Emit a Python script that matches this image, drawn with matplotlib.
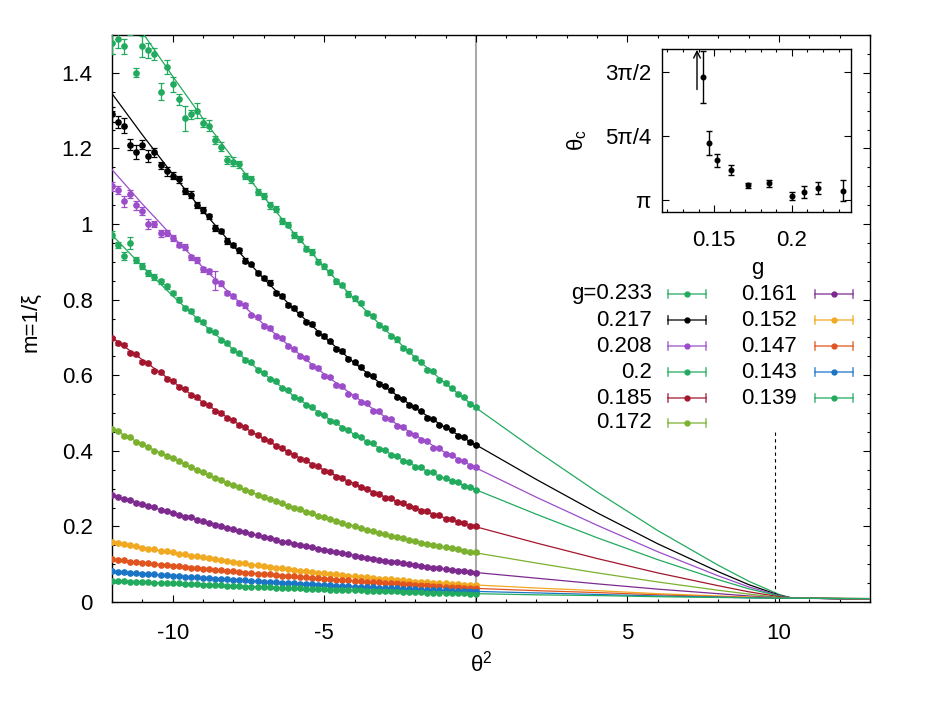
import matplotlib
matplotlib.use("Agg")
import matplotlib.pyplot as plt
import numpy as np
from matplotlib.lines import Line2D
from matplotlib.ticker import MultipleLocator, FuncFormatter

plt.rcParams['font.family'] = ['Liberation Sans', 'DejaVu Sans']
plt.rcParams['mathtext.fontset'] = 'custom'
plt.rcParams['mathtext.rm'] = 'Liberation Sans'
plt.rcParams['mathtext.it'] = 'Liberation Sans:italic'
plt.rcParams['axes.unicode_minus'] = False

# ---- main panel data: m = 1/xi vs theta^2 ----
theta2 = np.round(np.arange(-12.0, 0.01, 0.2), 1)   # measured theta^2 grid

g_labels = ['g=0.233', '0.217', '0.208', '0.2', '0.185', '0.172',
            '0.161', '0.152', '0.147', '0.143', '0.139']
colors = ['#22aa5e', '#000000', '#9b4dca', '#22aa5e', '#a3162d', '#7bb12f',
          '#7d2a8f', '#f0a920', '#e0551f', '#1b75c6', '#22aa5e']

m_233 = [1.48, 1.49, 1.47, 1.53, 1.40, 1.47, 1.46, 1.45, 1.35, 1.415, 1.37,
         1.33, 1.28, 1.29, 1.30, 1.268, 1.26, 1.222, 1.205, 1.17, 1.165,
         1.158, 1.128, 1.118, 1.085, 1.075, 1.05, 1.04, 1.008, 0.998, 0.972,
         0.96, 0.935, 0.925, 0.9, 0.888, 0.872, 0.848, 0.838, 0.815, 0.803,
         0.79, 0.764, 0.757, 0.733, 0.724, 0.703, 0.695, 0.672, 0.665, 0.645,
         0.636, 0.615, 0.61, 0.588, 0.58, 0.566, 0.549, 0.543, 0.524, 0.515]
m_217 = [1.29, 1.27, 1.26, 1.21, 1.19, 1.21, 1.18, 1.19, 1.155, 1.14, 1.128,
         1.118, 1.088, 1.078, 1.05, 1.036, 1.02, 0.99, 0.982, 0.955, 0.945,
         0.93, 0.903, 0.893, 0.87, 0.858, 0.845, 0.818, 0.81, 0.786, 0.778,
         0.763, 0.742, 0.735, 0.712, 0.704, 0.69, 0.67, 0.663, 0.643, 0.634,
         0.622, 0.604, 0.598, 0.578, 0.572, 0.56, 0.543, 0.538, 0.52, 0.515,
         0.505, 0.488, 0.485, 0.468, 0.463, 0.455, 0.44, 0.437, 0.422, 0.416]
m_208 = [1.10, 1.09, 1.06, 1.08, 1.05, 1.035, 1.00, 1.00, 0.975, 0.975, 0.962,
         0.945, 0.938, 0.912, 0.905, 0.88, 0.875, 0.85, 0.843, 0.818, 0.81,
         0.79, 0.785, 0.758, 0.754, 0.73, 0.725, 0.703, 0.698, 0.676, 0.67,
         0.65, 0.646, 0.624, 0.62, 0.598, 0.595, 0.574, 0.571, 0.551, 0.546,
         0.528, 0.526, 0.506, 0.504, 0.486, 0.483, 0.466, 0.464, 0.446, 0.443,
         0.428, 0.426, 0.408, 0.407, 0.391, 0.389, 0.375, 0.373, 0.36, 0.356]
m_200 = [0.972, 0.945, 0.915, 0.95, 0.905, 0.89, 0.87, 0.86, 0.848, 0.835, 0.818,
         0.8, 0.778, 0.77, 0.749, 0.74, 0.72, 0.713, 0.692, 0.686, 0.666,
         0.658, 0.64, 0.634, 0.615, 0.607, 0.59, 0.584, 0.566, 0.56, 0.543,
         0.537, 0.521, 0.517, 0.5, 0.495, 0.48, 0.476, 0.46, 0.456, 0.441,
         0.437, 0.423, 0.42, 0.405, 0.402, 0.389, 0.386, 0.373, 0.371, 0.358,
         0.356, 0.344, 0.343, 0.331, 0.329, 0.319, 0.317, 0.307, 0.305, 0.297]
m_185 = [0.698, 0.684, 0.68, 0.66, 0.655, 0.636, 0.632, 0.612, 0.608, 0.59, 0.585,
         0.57, 0.564, 0.547, 0.542, 0.526, 0.52, 0.505, 0.5, 0.486, 0.481,
         0.468, 0.462, 0.449, 0.443, 0.43, 0.425, 0.413, 0.408, 0.396, 0.39,
         0.379, 0.375, 0.363, 0.359, 0.347, 0.344, 0.332, 0.329, 0.317, 0.313,
         0.303, 0.3, 0.289, 0.287, 0.276, 0.274, 0.264, 0.262, 0.253, 0.25,
         0.242, 0.24, 0.231, 0.229, 0.22, 0.219, 0.211, 0.21, 0.202, 0.2]
m_172 = [0.458, 0.452, 0.44, 0.436, 0.424, 0.418, 0.41, 0.4, 0.395, 0.385, 0.38,
         0.372, 0.364, 0.358, 0.349, 0.343, 0.337, 0.328, 0.324, 0.314, 0.31,
         0.304, 0.296, 0.292, 0.283, 0.279, 0.273, 0.266, 0.262, 0.254, 0.25,
         0.245, 0.239, 0.235, 0.228, 0.224, 0.219, 0.213, 0.21, 0.204, 0.201,
         0.196, 0.191, 0.188, 0.182, 0.179, 0.175, 0.171, 0.168, 0.163, 0.161,
         0.157, 0.154, 0.151, 0.147, 0.145, 0.142, 0.139, 0.136, 0.133, 0.131]
m_161 = [0.284, 0.279, 0.272, 0.27, 0.263, 0.258, 0.254, 0.251, 0.244, 0.24, 0.235,
         0.231, 0.226, 0.224, 0.218, 0.213, 0.209, 0.205, 0.2, 0.196, 0.192,
         0.188, 0.186, 0.18, 0.176, 0.172, 0.169, 0.165, 0.159, 0.158, 0.154,
         0.151, 0.148, 0.146, 0.141, 0.138, 0.135, 0.132, 0.129, 0.126, 0.123,
         0.12, 0.117, 0.115, 0.11, 0.109, 0.107, 0.105, 0.102, 0.1, 0.098,
         0.096, 0.093, 0.091, 0.089, 0.087, 0.085, 0.083, 0.082, 0.08, 0.078]
m_152 = [0.159, 0.156, 0.153, 0.15, 0.147, 0.144, 0.141, 0.139, 0.136, 0.134, 0.131,
         0.128, 0.126, 0.123, 0.121, 0.118, 0.116, 0.113, 0.111, 0.108, 0.106,
         0.104, 0.102, 0.099, 0.097, 0.095, 0.093, 0.091, 0.089, 0.087, 0.085,
         0.083, 0.081, 0.08, 0.078, 0.076, 0.074, 0.073, 0.071, 0.07, 0.068,
         0.067, 0.065, 0.064, 0.062, 0.061, 0.06, 0.058, 0.057, 0.055, 0.054,
         0.053, 0.052, 0.051, 0.05, 0.049, 0.048, 0.047, 0.046, 0.046, 0.045]
m_147 = [0.113, 0.111, 0.11, 0.107, 0.106, 0.104, 0.102, 0.101, 0.099, 0.098, 0.096,
         0.094, 0.093, 0.091, 0.09, 0.088, 0.087, 0.085, 0.084, 0.082, 0.081,
         0.08, 0.078, 0.077, 0.075, 0.074, 0.073, 0.071, 0.07, 0.069, 0.068,
         0.067, 0.065, 0.064, 0.063, 0.062, 0.061, 0.059, 0.058, 0.057, 0.056,
         0.055, 0.054, 0.053, 0.052, 0.051, 0.05, 0.049, 0.048, 0.047, 0.046,
         0.045, 0.044, 0.043, 0.042, 0.041, 0.04, 0.039, 0.038, 0.037, 0.036]
m_143 = [0.081, 0.08, 0.079, 0.077, 0.076, 0.075, 0.074, 0.073, 0.072, 0.071, 0.07,
         0.069, 0.067, 0.066, 0.065, 0.064, 0.063, 0.062, 0.061, 0.06, 0.059,
         0.058, 0.057, 0.056, 0.055, 0.054, 0.053, 0.052, 0.051, 0.05, 0.049,
         0.048, 0.047, 0.047, 0.046, 0.045, 0.044, 0.043, 0.043, 0.042, 0.041,
         0.04, 0.039, 0.039, 0.038, 0.037, 0.036, 0.036, 0.035, 0.034, 0.034,
         0.033, 0.033, 0.032, 0.031, 0.031, 0.03, 0.03, 0.029, 0.029, 0.028]
m_139 = [0.056, 0.056, 0.055, 0.054, 0.054, 0.053, 0.052, 0.051, 0.051, 0.05, 0.049,
         0.049, 0.048, 0.047, 0.047, 0.046, 0.045, 0.045, 0.044, 0.043, 0.043,
         0.042, 0.041, 0.041, 0.04, 0.04, 0.039, 0.038, 0.037, 0.037, 0.036,
         0.036, 0.035, 0.035, 0.034, 0.034, 0.033, 0.033, 0.032, 0.032, 0.031,
         0.031, 0.03, 0.03, 0.029, 0.029, 0.028, 0.028, 0.027, 0.027, 0.026,
         0.026, 0.025, 0.025, 0.025, 0.024, 0.024, 0.023, 0.023, 0.022, 0.022]

e_233 = [0.03, 0.025, 0.02, 0.03, 0.012, 0.028, 0.02, 0.015, 0.022, 0.018, 0.02,
         0.015, 0.033, 0.012, 0.02, 0.012, 0.015, 0.01, 0.012, 0.01, 0.012,
         0.009, 0.008, 0.01, 0.007, 0.008, 0.009, 0.007, 0.008, 0.006, 0.008,
         0.007, 0.006, 0.008, 0.007, 0.006, 0.007, 0.006, 0.005, 0.007, 0.006,
         0.005, 0.006, 0.005, 0.006, 0.005, 0.004, 0.006, 0.005, 0.004, 0.005,
         0.004, 0.005, 0.004, 0.004, 0.005, 0.004, 0.004, 0.003, 0.004, 0.004]
e_217 = [0.02, 0.015, 0.02, 0.015, 0.018, 0.012, 0.015, 0.012, 0.01, 0.012, 0.01,
         0.009, 0.008, 0.009, 0.007, 0.008, 0.007, 0.008, 0.006, 0.007, 0.006,
         0.007, 0.006, 0.005, 0.006, 0.005, 0.006, 0.005, 0.005, 0.006, 0.005,
         0.005, 0.004, 0.005, 0.004, 0.005, 0.004, 0.004, 0.005, 0.004, 0.004,
         0.004, 0.003, 0.004, 0.004, 0.003, 0.004, 0.003, 0.003, 0.004, 0.003,
         0.003, 0.003, 0.003, 0.003, 0.003, 0.003, 0.003, 0.003, 0.003, 0.003]
e_208 = [0.012, 0.01, 0.015, 0.01, 0.012, 0.01, 0.012, 0.008, 0.01, 0.008, 0.008,
         0.007, 0.008, 0.006, 0.007, 0.006, 0.007, 0.025, 0.006, 0.005, 0.006,
         0.005, 0.006, 0.005, 0.005, 0.006, 0.005, 0.004, 0.005, 0.004, 0.005,
         0.004, 0.004, 0.005, 0.004, 0.004, 0.003, 0.004, 0.004, 0.003, 0.004,
         0.003, 0.003, 0.004, 0.003, 0.003, 0.003, 0.003, 0.003, 0.003, 0.003,
         0.003, 0.003, 0.003, 0.003, 0.003, 0.003, 0.003, 0.003, 0.003, 0.003]
e_200 = [0.01, 0.008, 0.01, 0.015, 0.008, 0.008, 0.007, 0.008, 0.006, 0.007, 0.006,
         0.006, 0.005, 0.006, 0.005, 0.005, 0.006, 0.005, 0.004, 0.005, 0.004,
         0.004, 0.005, 0.004, 0.004, 0.004, 0.003, 0.004, 0.003, 0.003, 0.004,
         0.003, 0.003, 0.003, 0.003, 0.003, 0.003, 0.003, 0.003, 0.003, 0.003,
         0.003, 0.003, 0.003, 0.003, 0.003, 0.003, 0.003, 0.003, 0.003, 0.003,
         0.003, 0.003, 0.003, 0.003, 0.003, 0.003, 0.003, 0.003, 0.003, 0.003]
e_small = [0.004, 0.003, 0.003, 0.002, 0.002, 0.002, 0.002]   # g=0.185 ... 0.139

# fitted curves m(theta^2), read at these theta^2 values
fit_x = [-12, -11, -10, -9, -8, -7, -6, -5, -4, -3, -2, -1, 0, 2, 4, 6, 8, 9, 10, 10.4, 13]
fit_233 = [1.630, 1.507, 1.391, 1.279, 1.173, 1.072, 0.976, 0.886, 0.801, 0.721, 0.647, 0.578, 0.514, 0.400, 0.291, 0.189, 0.097, 0.055, 0.020, 0.011, 0.007]
fit_217 = [1.345, 1.236, 1.132, 1.034, 0.942, 0.856, 0.775, 0.701, 0.632, 0.569, 0.513, 0.461, 0.416, 0.324, 0.236, 0.154, 0.080, 0.046, 0.018, 0.011, 0.007]
fit_208 = [1.144, 1.053, 0.967, 0.885, 0.808, 0.735, 0.667, 0.603, 0.544, 0.490, 0.441, 0.395, 0.355, 0.277, 0.203, 0.133, 0.069, 0.040, 0.017, 0.011, 0.007]
fit_200 = [0.971, 0.888, 0.810, 0.736, 0.668, 0.604, 0.545, 0.492, 0.443, 0.399, 0.360, 0.326, 0.297, 0.232, 0.170, 0.112, 0.059, 0.035, 0.016, 0.011, 0.008]
fit_185 = [0.700, 0.641, 0.583, 0.528, 0.479, 0.432, 0.389, 0.349, 0.312, 0.278, 0.249, 0.222, 0.199, 0.156, 0.115, 0.077, 0.043, 0.027, 0.014, 0.011, 0.008]
fit_172 = [0.458, 0.417, 0.379, 0.342, 0.309, 0.278, 0.249, 0.223, 0.200, 0.178, 0.160, 0.144, 0.130, 0.103, 0.077, 0.053, 0.031, 0.021, 0.012, 0.011, 0.008]
fit_161 = [0.284, 0.258, 0.235, 0.213, 0.192, 0.172, 0.154, 0.138, 0.123, 0.109, 0.098, 0.087, 0.078, 0.063, 0.048, 0.034, 0.022, 0.016, 0.011, 0.010, 0.008]
fit_152 = [0.159, 0.144, 0.131, 0.118, 0.106, 0.095, 0.085, 0.076, 0.068, 0.061, 0.054, 0.049, 0.045, 0.037, 0.030, 0.022, 0.016, 0.013, 0.011, 0.010, 0.009]
fit_147 = [0.113, 0.104, 0.096, 0.088, 0.081, 0.074, 0.068, 0.062, 0.056, 0.051, 0.046, 0.041, 0.036, 0.030, 0.025, 0.019, 0.014, 0.012, 0.011, 0.010, 0.009]
fit_143 = [0.081, 0.075, 0.070, 0.064, 0.059, 0.054, 0.049, 0.045, 0.041, 0.037, 0.034, 0.031, 0.028, 0.024, 0.020, 0.016, 0.013, 0.011, 0.010, 0.010, 0.009]
fit_139 = [0.056, 0.053, 0.049, 0.046, 0.043, 0.040, 0.036, 0.034, 0.031, 0.029, 0.026, 0.024, 0.022, 0.019, 0.017, 0.014, 0.012, 0.011, 0.010, 0.010, 0.009]

theta2_c = 9.87    # dashed marker (pi^2)
dash_top = 0.455

# ---- inset: theta_c vs g ----
g_in = [0.143, 0.147, 0.152, 0.161, 0.172, 0.185, 0.2, 0.208, 0.217, 0.233]
thc_in = [4.651, 3.842, 3.627, 3.512, 3.318, 3.343, 3.187, 3.236, 3.281, 3.253]
thc_err = [0.32, 0.144, 0.084, 0.062, 0.035, 0.045, 0.047, 0.07, 0.074, 0.13]
g_bound = 0.139          # lower bound only (arrow)
thc_bound = 4.5

m_all = [m_233, m_217, m_208, m_200, m_185, m_172, m_161, m_152, m_147, m_143, m_139]
e_all = [e_233, e_217, e_208, e_200] + e_small
fit_all = [fit_233, fit_217, fit_208, fit_200, fit_185, fit_172, fit_161,
           fit_152, fit_147, fit_143, fit_139]

W, H = 944, 709
fig = plt.figure(figsize=(W / 100, H / 100), dpi=100)

def fx(p):
    return p / W

def fy(p):
    return 1 - p / H

ax = fig.add_axes([fx(112), fy(602), fx(870 - 112), (602 - 35) / H])
ax.set_xlim(-12, 13)
ax.set_ylim(0, 1.5)

ax.axvline(0, color='#aaaaaa', lw=1.5, zorder=1)
ax.plot([theta2_c, theta2_c], [0, dash_top], color='black', lw=0.8,
        dashes=(3, 3), zorder=1)

for m, e, f, c in zip(m_all, e_all, fit_all, colors):
    ax.errorbar(theta2, m, yerr=e, fmt='o', ms=3.8, color=c, mec=c,
                elinewidth=0.9, capsize=2.2, capthick=0.9, zorder=3)
    ax.plot(fit_x, f, color=c, lw=0.9, zorder=4)

ax.xaxis.set_major_locator(MultipleLocator(5))
ax.xaxis.set_minor_locator(MultipleLocator(1))
ax.yaxis.set_major_locator(MultipleLocator(0.2))
ax.yaxis.set_minor_locator(MultipleLocator(0.05))
ax.yaxis.set_major_formatter(FuncFormatter(lambda v, p: '%g' % round(v, 2)))
ax.tick_params(which='both', direction='in', top=True, right=True, labelsize=16)
ax.tick_params(which='major', length=5, width=0.8)
ax.tick_params(which='minor', length=2.5, width=0.8)
ax.tick_params(axis='x', pad=15)
ax.tick_params(axis='y', pad=14)
for s in ax.spines.values():
    s.set_linewidth(1.0)

fig.text(fx(31), fy(322), 'm=1/ξ', rotation=90, ha='center', va='center', fontsize=16)
fig.text(fx(481), fy(664), 'θ$^2$', ha='center', va='center', fontsize=16)

# ---- legend (gnuplot style, two columns) ----
row_y = [294, 320, 346, 372, 398, 423]
cols = [(652, 668, 706), (797, 815, 853)]
for i, (lab, c) in enumerate(zip(g_labels, colors)):
    col = 0 if i < 6 else 1
    yy = row_y[i if i < 6 else i - 6]
    tx, x1, x2 = cols[col]
    fig.text(fx(tx), fy(yy), lab, ha='right', va='center', fontsize=16)
    fig.add_artist(Line2D([fx(x1), fx(x2)], [fy(yy), fy(yy)], color=c, lw=1.2, alpha=0.75))
    for xc in (x1, x2):
        fig.add_artist(Line2D([fx(xc), fx(xc)], [fy(yy - 4), fy(yy + 4)], color=c, lw=1.2, alpha=0.75))
    fig.add_artist(Line2D([fx((x1 + x2) / 2)], [fy(yy)], marker='o', ms=3.5, color=c, lw=0))

# ---- inset ----
axi = fig.add_axes([fx(662), fy(212), fx(851 - 662), (212 - 49) / H])
axi.set_xlim(0.1165, 0.238)
axi.set_ylim(2.99, 5.0)
axi.errorbar(g_in, thc_in, yerr=thc_err, fmt='o', ms=3.3, color='black',
             elinewidth=1.0, capsize=2.5, capthick=1.0)
axi.annotate('', xy=(g_bound, 4.99), xytext=(g_bound, thc_bound),
             arrowprops=dict(arrowstyle='->', lw=1.0, color='black',
                             shrinkA=0, shrinkB=0, mutation_scale=12))
axi.set_xticks([0.15, 0.2])
axi.set_xticklabels(['0.15', '0.2'])
axi.xaxis.set_minor_locator(MultipleLocator(0.01))
axi.set_yticks([np.pi, 1.25 * np.pi, 1.5 * np.pi])
axi.set_yticklabels(['π', '5π/4', '3π/2'])
axi.tick_params(which='both', direction='in', top=True, right=True, labelsize=16)
axi.tick_params(which='major', length=5, width=0.8)
axi.tick_params(which='minor', length=2.5, width=0.8)
axi.tick_params(axis='x', pad=13)
axi.tick_params(axis='y', pad=8)
for s in axi.spines.values():
    s.set_linewidth(1.0)
fig.text(fx(757), fy(268), 'g', ha='center', va='center', fontsize=16)
fig.text(fx(577), fy(140), 'θ$_\\mathrm{c}$', rotation=90, ha='center', va='center', fontsize=16)

fig.savefig('out.png', dpi=100)
